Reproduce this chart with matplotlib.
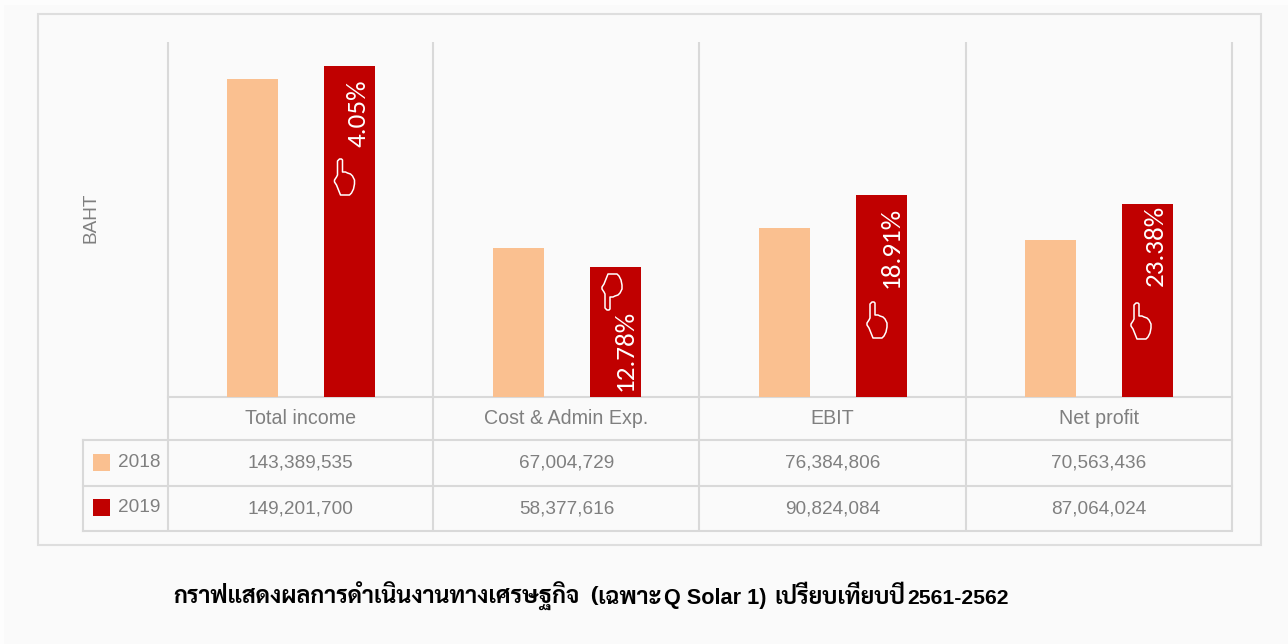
import matplotlib
matplotlib.use("Agg")
import matplotlib.pyplot as plt
from matplotlib.patches import Rectangle, Polygon

categories = ["Total income", "Cost & Admin Exp.", "EBIT", "Net profit"]
years = ["2018", "2019"]
values_2018 = [143389535, 67004729, 76384806, 70563436]
values_2019 = [149201700, 58377616, 90824084, 87064024]
changes = ["4.05%", "12.78%", "18.91%", "23.38%"]
points_up = [True, False, True, True]
title_parts = ["กราฟแสดงผลการดำเนินงานทางเศรษฐกิจ", "(เฉพาะ", "Q Solar 1)", "เปรียบเทียบปี", "2561-2562"]

c_2018 = "#fac090"
c_2019 = "#c00000"
grid = "#d9d9d9"
grey = "#7f7f7f"
W, H = 1288, 644
thai_fonts = ["Sarabun", "Noto Sans Thai", "IBM Plex Sans Thai", "DejaVu Sans"]
label_fonts = ["Carlito", "Open Sans", "DejaVu Sans"]
plt.rcParams["font.family"] = ["Liberation Sans", "DejaVu Sans"]

# hand icon outline, pixels around its middle, finger up
hand_shape = [(-5, -20), (-3, -20), (-2, -19), (-2, -7), (1, -7), (3, -6), (6, -5), (8, -3), (10, 1), (10, 5),
              (9, 10), (7, 14), (5, 16), (-4, 16), (-6, 11), (-8, 6), (-10, 3), (-10, 1), (-8, -2), (-7, -4),
              (-7, -18)]

fig = plt.figure(figsize=(W / 100, H / 100), dpi=100, facecolor="#fdfdfd")

# page axes in pixels, for the frame and table
page = fig.add_axes([0, 0, 1, 1])
page.set_xlim(0, W)
page.set_ylim(H, 0)
page.axis("off")
page.add_patch(Rectangle((4, 5), W - 4, H - 5, fc="#fafafa", ec="none"))
page.add_patch(Rectangle((38.5, 13.5), 1223, 531, fc="#fafafa", ec="#dedede", lw=1.5))

col_x = [168, 433.5, 699.5, 966, 1232]
row_y = [397, 439.5, 485.5, 531]

# bars
left, right, bottom, top = 168, 1232, 397, 42
ax = fig.add_axes([left / W, 1 - bottom / H, (right - left) / W, (bottom - top) / H])
ax.patch.set_alpha(0)
ax.set_xlim(0, 4)
ax.set_ylim(0, 160000000)
ax.axis("off")
xs = [i + 0.5 for i in range(4)]
ax.bar([x - 0.184 for x in xs], values_2018, width=0.192, color=c_2018, zorder=3)
ax.bar([x + 0.181 for x in xs], values_2019, width=0.192, color=c_2019, zorder=3)

# grid and table lines
for x in col_x:
    page.plot([x, x], [42, 531], color=grid, lw=1.5, solid_capstyle="butt", zorder=1)
page.plot([168, 1232], [row_y[0], row_y[0]], color=grid, lw=1.5, zorder=1)
for y in row_y[1:]:
    page.plot([83.5, 1232], [y, y], color=grid, lw=1.5, zorder=1)
page.plot([83.5, 83.5], [row_y[1], row_y[3]], color=grid, lw=1.5, zorder=1)

# table text
for i, cat in enumerate(categories):
    cx = (col_x[i] + col_x[i + 1]) / 2
    page.text(cx, 418.5, cat, color=grey, fontsize=14.1, ha="center", va="center")
    page.text(cx, 462.5, f"{values_2018[i]:,}", color=grey, fontsize=13.7, ha="center", va="center")
    page.text(cx, 508.5, f"{values_2019[i]:,}", color=grey, fontsize=13.7, ha="center", va="center")

for y, yr, col in zip([462.5, 507.5], years, [c_2018, c_2019]):
    page.add_patch(Rectangle((93, y - 8.5), 17, 17, fc=col, ec="none"))
    page.text(118, y, yr, color=grey, fontsize=13.7, ha="left", va="center")

page.text(91, 218, "BAHT", color=grey, fontsize=13.7, rotation=90, ha="center", va="center")

# change labels and hands on the 2019 bars, drawn over the bar axes
over = fig.add_axes([0, 0, 1, 1])
over.set_xlim(0, W)
over.set_ylim(H, 0)
over.axis("off")
over.patch.set_alpha(0)
label_x = [358, 625, 891, 1155]
label_y = [113, 350, 247.5, 245]
hand_x = [344.5, 612, 877, 1141]
hand_y = [179, 290, 322, 323]
for i in range(4):
    over.text(label_x[i], label_y[i], changes[i], color="white", fontsize=19.5, rotation=90,
              ha="center", va="center", family=label_fonts)
    flip = 1 if points_up[i] else -1
    outline = [(hand_x[i] + px, hand_y[i] + flip * py) for px, py in hand_shape]
    over.add_patch(Polygon(outline, closed=True, fc="none", ec="white", lw=1.1, joinstyle="round"))

# title pieces, the Thai font runs wider than the latin one
part_x = [173, 590, 664, 774, 907]
part_size = [16.8, 16.8, 15.6, 16.8, 15.2]
part_fonts = [thai_fonts, thai_fonts, ["Liberation Sans"], thai_fonts, ["Liberation Sans"]]
for part, x, size, fonts in zip(title_parts, part_x, part_size, part_fonts):
    page.text(x, 604, part, color="black", fontsize=size, fontweight="bold", ha="left", va="baseline",
              family=fonts)

fig.savefig("out.png", dpi=100, facecolor=fig.get_facecolor())
